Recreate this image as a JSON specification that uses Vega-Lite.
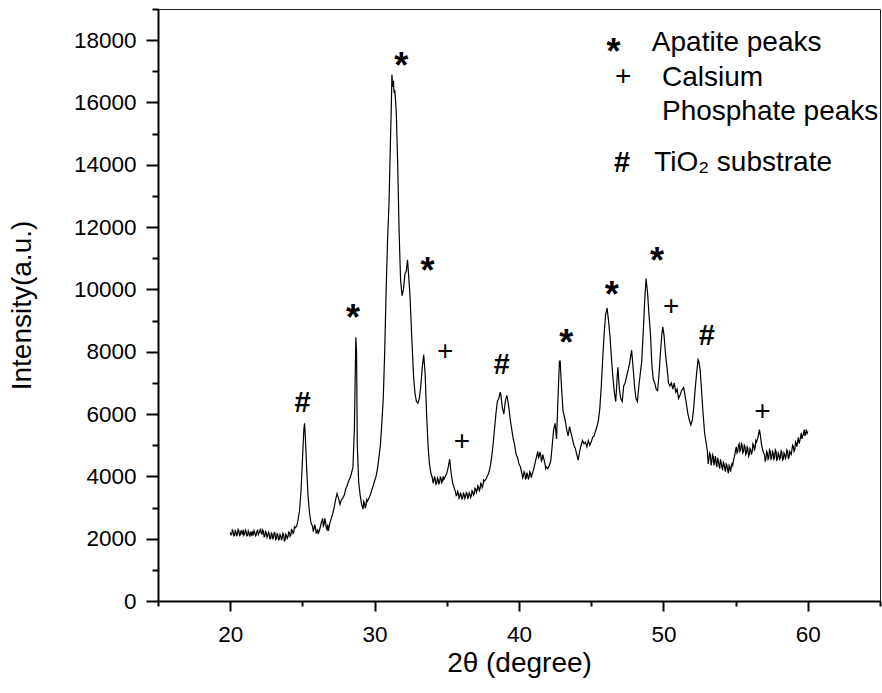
{
  "$schema": "https://vega.github.io/schema/vega-lite/v6.json",
  "width": 722,
  "height": 592,
  "autosize": {"type": "none"},
  "padding": {"left": 158, "top": 9, "right": 2, "bottom": 92},
  "background": "white",
  "config": {
    "view": {"stroke": "#222222", "strokeWidth": 1},
    "axis": {"grid": false, "labelFont": "Liberation Sans", "titleFont": "Liberation Sans", "labelColor": "black", "titleColor": "black", "domainColor": "black", "tickColor": "black", "titleFontWeight": "normal"},
    "text": {"font": "Liberation Sans", "color": "black"}
  },
  "datasets": {
    "xrd": [
      {"x":20.0,"y":2200},{"x":20.05,"y":2120},{"x":20.1,"y":2130},{"x":20.15,"y":2280},{"x":20.2,"y":2250},{"x":20.25,"y":2090},{"x":20.3,"y":2100},{"x":20.35,"y":2260},{"x":20.4,"y":2220},{"x":20.45,"y":2080},{"x":20.5,"y":2150},{"x":20.55,"y":2300},{"x":20.6,"y":2260},{"x":20.65,"y":2100},{"x":20.7,"y":2120},{"x":20.75,"y":2270},{"x":20.8,"y":2200},{"x":20.85,"y":2130},{"x":20.9,"y":2290},{"x":20.95,"y":2110},
      {"x":21.0,"y":2150},{"x":21.05,"y":2280},{"x":21.1,"y":2230},{"x":21.15,"y":2090},{"x":21.2,"y":2100},{"x":21.25,"y":2250},{"x":21.3,"y":2190},{"x":21.35,"y":2070},{"x":21.4,"y":2160},{"x":21.45,"y":2230},{"x":21.5,"y":2080},{"x":21.55,"y":2200},{"x":21.6,"y":2150},{"x":21.65,"y":2260},{"x":21.7,"y":2200},{"x":21.75,"y":2090},{"x":21.8,"y":2120},{"x":21.85,"y":2240},{"x":21.9,"y":2270},{"x":21.95,"y":2130},
      {"x":22.0,"y":2180},{"x":22.05,"y":2250},{"x":22.1,"y":2320},{"x":22.15,"y":2170},{"x":22.2,"y":2150},{"x":22.25,"y":2280},{"x":22.3,"y":2230},{"x":22.35,"y":2060},{"x":22.4,"y":2080},{"x":22.45,"y":2230},{"x":22.5,"y":2200},{"x":22.55,"y":2040},{"x":22.6,"y":2100},{"x":22.65,"y":2210},{"x":22.7,"y":2160},{"x":22.75,"y":1990},{"x":22.8,"y":2000},{"x":22.85,"y":2180},{"x":22.9,"y":2150},{"x":22.95,"y":1980},
      {"x":23.0,"y":2050},{"x":23.05,"y":2200},{"x":23.1,"y":2180},{"x":23.15,"y":1970},{"x":23.2,"y":2000},{"x":23.25,"y":2160},{"x":23.3,"y":2120},{"x":23.35,"y":1960},{"x":23.4,"y":1980},{"x":23.45,"y":2140},{"x":23.5,"y":2100},{"x":23.55,"y":1950},{"x":23.6,"y":2020},{"x":23.65,"y":2170},{"x":23.7,"y":2130},{"x":23.75,"y":1930},{"x":23.8,"y":1950},{"x":23.85,"y":2140},{"x":23.9,"y":2100},{"x":23.95,"y":2010},
      {"x":24.0,"y":2060},{"x":24.05,"y":2210},{"x":24.1,"y":2200},{"x":24.15,"y":2080},{"x":24.2,"y":2130},{"x":24.25,"y":2290},{"x":24.3,"y":2260},{"x":24.35,"y":2170},{"x":24.4,"y":2200},{"x":24.45,"y":2380},{"x":24.5,"y":2350},{"x":24.6,"y":2400},{"x":24.7,"y":2600},{"x":24.8,"y":2900},{"x":24.9,"y":3500},
      {"x":25.0,"y":4500},{"x":25.1,"y":5500},{"x":25.15,"y":5700},{"x":25.2,"y":5300},{"x":25.3,"y":4200},{"x":25.4,"y":3300},{"x":25.5,"y":2800},{"x":25.6,"y":2500},{"x":25.7,"y":2400},{"x":25.75,"y":2250},{"x":25.8,"y":2300},{"x":25.85,"y":2450},{"x":25.9,"y":2380},{"x":25.95,"y":2180},
      {"x":26.0,"y":2200},{"x":26.05,"y":2300},{"x":26.1,"y":2150},{"x":26.2,"y":2300},{"x":26.3,"y":2500},{"x":26.4,"y":2650},{"x":26.45,"y":2400},{"x":26.5,"y":2450},{"x":26.55,"y":2650},{"x":26.6,"y":2550},{"x":26.65,"y":2350},{"x":26.7,"y":2300},{"x":26.75,"y":2450},{"x":26.8,"y":2250},{"x":26.9,"y":2500},
      {"x":27.0,"y":2650},{"x":27.1,"y":2800},{"x":27.2,"y":3000},{"x":27.3,"y":3250},{"x":27.4,"y":3450},{"x":27.5,"y":3300},{"x":27.6,"y":3100},{"x":27.7,"y":3250},{"x":27.8,"y":3300},{"x":27.9,"y":3400},
      {"x":28.0,"y":3600},{"x":28.1,"y":3700},{"x":28.2,"y":3850},{"x":28.3,"y":3950},{"x":28.4,"y":4100},{"x":28.5,"y":4300},{"x":28.6,"y":5500},{"x":28.7,"y":8460},{"x":28.75,"y":8000},{"x":28.8,"y":5000},{"x":28.9,"y":3800},
      {"x":29.0,"y":3400},{"x":29.1,"y":3100},{"x":29.2,"y":2950},{"x":29.25,"y":3200},{"x":29.3,"y":3150},{"x":29.35,"y":2980},{"x":29.4,"y":3050},{"x":29.45,"y":3250},{"x":29.5,"y":3200},{"x":29.6,"y":3300},{"x":29.7,"y":3400},{"x":29.8,"y":3550},{"x":29.9,"y":3700},
      {"x":30.0,"y":3850},{"x":30.1,"y":4000},{"x":30.2,"y":4250},{"x":30.3,"y":4600},{"x":30.4,"y":5000},{"x":30.5,"y":5700},{"x":30.6,"y":6500},{"x":30.7,"y":8000},{"x":30.8,"y":10000},{"x":30.9,"y":11600},
      {"x":31.0,"y":12800},{"x":31.1,"y":14800},{"x":31.15,"y":15700},{"x":31.2,"y":16900},{"x":31.25,"y":16500},{"x":31.3,"y":16700},{"x":31.35,"y":16300},{"x":31.4,"y":16400},{"x":31.5,"y":15700},{"x":31.6,"y":14000},{"x":31.7,"y":11800},{"x":31.8,"y":10300},{"x":31.9,"y":9800},
      {"x":32.0,"y":10000},{"x":32.1,"y":10500},{"x":32.2,"y":10600},{"x":32.28,"y":10950},{"x":32.35,"y":10500},{"x":32.45,"y":9800},{"x":32.6,"y":8200},{"x":32.7,"y":7200},{"x":32.8,"y":6650},{"x":32.9,"y":6400},
      {"x":33.0,"y":6350},{"x":33.1,"y":6500},{"x":33.2,"y":6900},{"x":33.3,"y":7500},{"x":33.4,"y":7900},{"x":33.5,"y":7300},{"x":33.6,"y":6000},{"x":33.7,"y":5000},{"x":33.8,"y":4400},{"x":33.9,"y":4100},
      {"x":34.0,"y":3950},{"x":34.05,"y":3780},{"x":34.1,"y":3850},{"x":34.15,"y":4000},{"x":34.2,"y":3900},{"x":34.25,"y":3750},{"x":34.3,"y":3780},{"x":34.35,"y":3950},{"x":34.4,"y":3900},{"x":34.45,"y":3760},{"x":34.5,"y":3800},{"x":34.55,"y":3980},{"x":34.6,"y":3950},{"x":34.65,"y":3800},{"x":34.7,"y":3850},{"x":34.75,"y":4000},{"x":34.8,"y":3900},{"x":34.9,"y":4000},
      {"x":35.0,"y":4100},{"x":35.1,"y":4300},{"x":35.2,"y":4550},{"x":35.3,"y":4100},{"x":35.4,"y":3800},{"x":35.5,"y":3650},{"x":35.6,"y":3500},{"x":35.65,"y":3380},{"x":35.7,"y":3400},{"x":35.75,"y":3520},{"x":35.8,"y":3450},{"x":35.85,"y":3300},{"x":35.9,"y":3350},{"x":35.95,"y":3480},
      {"x":36.0,"y":3400},{"x":36.05,"y":3280},{"x":36.1,"y":3300},{"x":36.15,"y":3460},{"x":36.2,"y":3420},{"x":36.25,"y":3290},{"x":36.3,"y":3350},{"x":36.35,"y":3480},{"x":36.4,"y":3450},{"x":36.45,"y":3300},{"x":36.5,"y":3330},{"x":36.55,"y":3470},{"x":36.6,"y":3420},{"x":36.65,"y":3320},{"x":36.7,"y":3380},{"x":36.75,"y":3540},{"x":36.8,"y":3500},{"x":36.85,"y":3400},{"x":36.9,"y":3450},{"x":36.95,"y":3620},
      {"x":37.0,"y":3600},{"x":37.05,"y":3480},{"x":37.1,"y":3550},{"x":37.15,"y":3700},{"x":37.2,"y":3650},{"x":37.25,"y":3540},{"x":37.3,"y":3600},{"x":37.35,"y":3780},{"x":37.4,"y":3750},{"x":37.45,"y":3640},{"x":37.5,"y":3700},{"x":37.55,"y":3880},{"x":37.6,"y":3850},{"x":37.7,"y":3900},{"x":37.8,"y":4000},{"x":37.9,"y":4100},
      {"x":38.0,"y":4300},{"x":38.1,"y":4600},{"x":38.2,"y":5000},{"x":38.3,"y":5500},{"x":38.4,"y":6000},{"x":38.5,"y":6400},{"x":38.6,"y":6500},{"x":38.7,"y":6700},{"x":38.75,"y":6600},{"x":38.85,"y":6200},{"x":38.95,"y":6000},
      {"x":39.05,"y":6400},{"x":39.15,"y":6600},{"x":39.2,"y":6500},{"x":39.3,"y":6200},{"x":39.4,"y":5800},{"x":39.5,"y":5500},{"x":39.6,"y":5200},{"x":39.7,"y":5000},{"x":39.8,"y":4700},{"x":39.9,"y":4600},
      {"x":40.0,"y":4400},{"x":40.1,"y":4300},{"x":40.2,"y":4100},{"x":40.25,"y":3950},{"x":40.3,"y":4000},{"x":40.35,"y":4150},{"x":40.4,"y":4100},{"x":40.45,"y":3920},{"x":40.5,"y":3950},{"x":40.55,"y":4120},{"x":40.6,"y":4050},{"x":40.65,"y":3900},{"x":40.7,"y":3980},{"x":40.75,"y":4150},{"x":40.8,"y":4100},{"x":40.85,"y":3960},{"x":40.9,"y":4050},
      {"x":41.0,"y":4200},{"x":41.1,"y":4400},{"x":41.2,"y":4600},{"x":41.3,"y":4800},{"x":41.35,"y":4600},{"x":41.4,"y":4650},{"x":41.45,"y":4780},{"x":41.5,"y":4700},{"x":41.55,"y":4500},{"x":41.6,"y":4550},{"x":41.65,"y":4700},{"x":41.7,"y":4600},{"x":41.8,"y":4400},{"x":41.85,"y":4250},{"x":41.9,"y":4300},
      {"x":42.0,"y":4250},{"x":42.1,"y":4350},{"x":42.2,"y":4500},{"x":42.3,"y":5000},{"x":42.4,"y":5500},{"x":42.5,"y":5700},{"x":42.6,"y":5200},{"x":42.7,"y":6500},{"x":42.8,"y":7700},{"x":42.85,"y":7700},{"x":42.95,"y":6800},
      {"x":43.05,"y":6100},{"x":43.2,"y":5800},{"x":43.3,"y":5500},{"x":43.4,"y":5300},{"x":43.5,"y":5600},{"x":43.6,"y":5400},{"x":43.7,"y":5200},{"x":43.8,"y":5000},{"x":43.9,"y":4900},
      {"x":44.0,"y":4700},{"x":44.1,"y":4520},{"x":44.2,"y":4800},{"x":44.3,"y":5000},{"x":44.4,"y":5150},{"x":44.5,"y":5050},{"x":44.6,"y":5100},{"x":44.7,"y":4950},{"x":44.8,"y":5150},{"x":44.9,"y":5000},
      {"x":45.0,"y":5100},{"x":45.1,"y":5250},{"x":45.2,"y":5300},{"x":45.3,"y":5450},{"x":45.4,"y":5600},{"x":45.5,"y":5800},{"x":45.6,"y":6200},{"x":45.7,"y":6900},{"x":45.8,"y":7800},{"x":45.9,"y":8600},
      {"x":46.0,"y":9200},{"x":46.1,"y":9400},{"x":46.2,"y":9000},{"x":46.3,"y":8500},{"x":46.4,"y":7800},{"x":46.5,"y":7200},{"x":46.6,"y":6700},{"x":46.7,"y":6400},{"x":46.8,"y":7200},{"x":46.85,"y":7500},{"x":46.95,"y":6800},
      {"x":47.05,"y":6500},{"x":47.15,"y":6400},{"x":47.25,"y":6900},{"x":47.35,"y":7000},{"x":47.45,"y":7200},{"x":47.55,"y":7400},{"x":47.65,"y":7600},{"x":47.8,"y":8050},{"x":47.9,"y":7500},
      {"x":48.0,"y":6900},{"x":48.1,"y":6500},{"x":48.2,"y":6400},{"x":48.3,"y":6900},{"x":48.4,"y":7300},{"x":48.5,"y":7700},{"x":48.6,"y":8600},{"x":48.7,"y":9600},{"x":48.8,"y":10350},{"x":48.9,"y":9900},
      {"x":49.0,"y":9200},{"x":49.1,"y":8600},{"x":49.2,"y":7600},{"x":49.3,"y":7100},{"x":49.4,"y":7000},{"x":49.5,"y":6800},{"x":49.6,"y":6750},{"x":49.7,"y":7300},{"x":49.8,"y":8000},{"x":49.9,"y":8600},{"x":49.96,"y":8800},
      {"x":50.05,"y":8500},{"x":50.15,"y":7900},{"x":50.25,"y":7500},{"x":50.35,"y":7000},{"x":50.45,"y":6900},{"x":50.55,"y":7000},{"x":50.65,"y":6800},{"x":50.75,"y":7000},{"x":50.85,"y":6700},{"x":50.95,"y":6800},
      {"x":51.05,"y":6500},{"x":51.15,"y":6600},{"x":51.25,"y":6750},{"x":51.4,"y":6850},{"x":51.5,"y":6600},{"x":51.6,"y":6300},{"x":51.7,"y":6000},{"x":51.8,"y":5800},{"x":51.9,"y":5650},
      {"x":52.0,"y":5800},{"x":52.1,"y":6200},{"x":52.2,"y":6800},{"x":52.3,"y":7300},{"x":52.4,"y":7750},{"x":52.45,"y":7700},{"x":52.55,"y":7400},{"x":52.65,"y":6700},{"x":52.75,"y":6000},{"x":52.85,"y":5400},{"x":52.95,"y":5100},
      {"x":53.05,"y":4800},{"x":53.1,"y":4400},{"x":53.15,"y":4550},{"x":53.2,"y":4750},{"x":53.25,"y":4700},{"x":53.3,"y":4350},{"x":53.35,"y":4450},{"x":53.4,"y":4700},{"x":53.45,"y":4650},{"x":53.5,"y":4350},{"x":53.55,"y":4500},{"x":53.6,"y":4650},{"x":53.65,"y":4400},{"x":53.7,"y":4300},{"x":53.75,"y":4600},{"x":53.8,"y":4500},{"x":53.85,"y":4350},{"x":53.9,"y":4250},{"x":53.95,"y":4550},
      {"x":54.0,"y":4450},{"x":54.05,"y":4300},{"x":54.1,"y":4200},{"x":54.15,"y":4450},{"x":54.2,"y":4400},{"x":54.25,"y":4250},{"x":54.3,"y":4150},{"x":54.35,"y":4400},{"x":54.4,"y":4350},{"x":54.45,"y":4200},{"x":54.5,"y":4100},{"x":54.55,"y":4350},{"x":54.6,"y":4300},{"x":54.65,"y":4150},{"x":54.7,"y":4300},{"x":54.75,"y":4400},{"x":54.8,"y":4350},{"x":54.85,"y":4500},{"x":54.9,"y":4600},{"x":54.95,"y":4700},
      {"x":55.0,"y":4850},{"x":55.05,"y":4950},{"x":55.1,"y":4750},{"x":55.15,"y":4800},{"x":55.2,"y":5000},{"x":55.25,"y":5050},{"x":55.3,"y":4800},{"x":55.35,"y":4850},{"x":55.4,"y":5050},{"x":55.45,"y":5000},{"x":55.5,"y":4750},{"x":55.55,"y":4800},{"x":55.6,"y":5000},{"x":55.65,"y":4950},{"x":55.7,"y":4700},{"x":55.75,"y":4750},{"x":55.8,"y":4950},{"x":55.85,"y":4900},{"x":55.9,"y":4650},{"x":55.95,"y":4700},
      {"x":56.0,"y":4900},{"x":56.05,"y":4850},{"x":56.1,"y":4700},{"x":56.15,"y":4800},{"x":56.2,"y":5050},{"x":56.25,"y":5000},{"x":56.3,"y":4850},{"x":56.35,"y":4900},{"x":56.4,"y":5150},{"x":56.45,"y":5100},{"x":56.55,"y":5250},{"x":56.65,"y":5500},{"x":56.72,"y":5300},{"x":56.8,"y":5000},{"x":56.9,"y":4800},
      {"x":57.0,"y":4700},{"x":57.05,"y":4500},{"x":57.1,"y":4550},{"x":57.15,"y":4800},{"x":57.2,"y":4750},{"x":57.25,"y":4550},{"x":57.3,"y":4600},{"x":57.35,"y":4850},{"x":57.4,"y":4800},{"x":57.45,"y":4550},{"x":57.5,"y":4580},{"x":57.55,"y":4800},{"x":57.6,"y":4750},{"x":57.65,"y":4550},{"x":57.7,"y":4600},{"x":57.75,"y":4850},{"x":57.8,"y":4800},{"x":57.85,"y":4520},{"x":57.9,"y":4550},{"x":57.95,"y":4750},
      {"x":58.0,"y":4700},{"x":58.05,"y":4550},{"x":58.1,"y":4600},{"x":58.15,"y":4820},{"x":58.2,"y":4780},{"x":58.25,"y":4520},{"x":58.3,"y":4550},{"x":58.35,"y":4750},{"x":58.4,"y":4700},{"x":58.45,"y":4580},{"x":58.5,"y":4650},{"x":58.55,"y":4850},{"x":58.6,"y":4800},{"x":58.65,"y":4580},{"x":58.7,"y":4600},{"x":58.75,"y":4800},{"x":58.8,"y":4750},{"x":58.85,"y":4700},{"x":58.9,"y":4850},{"x":58.95,"y":5000},
      {"x":59.0,"y":4950},{"x":59.05,"y":4800},{"x":59.1,"y":4850},{"x":59.15,"y":5100},{"x":59.2,"y":5050},{"x":59.25,"y":4950},{"x":59.3,"y":5150},{"x":59.35,"y":5250},{"x":59.4,"y":5050},{"x":59.45,"y":5150},{"x":59.5,"y":5250},{"x":59.55,"y":5400},{"x":59.6,"y":5200},{"x":59.65,"y":5300},{"x":59.7,"y":5350},{"x":59.75,"y":5500},{"x":59.8,"y":5300},{"x":59.85,"y":5400},{"x":59.9,"y":5500},{"x":59.95,"y":5380},{"x":60.0,"y":5450}
    ],
    "marks": [
      {"x":25.01,"y":6340,"s":"#"},
      {"x":28.5,"y":9360,"s":"*"},
      {"x":31.84,"y":17450,"s":"*"},
      {"x":33.66,"y":10890,"s":"*"},
      {"x":34.89,"y":8000,"s":"+"},
      {"x":36.05,"y":5110,"s":"+"},
      {"x":38.81,"y":7570,"s":"#"},
      {"x":43.27,"y":8565,"s":"*"},
      {"x":46.43,"y":10100,"s":"*"},
      {"x":49.55,"y":11200,"s":"*"},
      {"x":50.54,"y":9420,"s":"+"},
      {"x":53.01,"y":8500,"s":"#"},
      {"x":56.86,"y":6050,"s":"+"},
      {"x":46.54,"y":17900,"s":"*"},
      {"x":47.22,"y":16810,"s":"+"},
      {"x":47.13,"y":14050,"s":"#"}
    ],
    "legend": [
      {"x":49.2,"y":17900,"t":"Apatite peaks"},
      {"x":49.9,"y":16780,"t":"Calsium"},
      {"x":49.9,"y":15700,"t":"Phosphate peaks"},
      {"x":49.36,"y":14050,"t":"TiO₂ substrate"}
    ]
  },
  "encoding": {
    "x": {
      "field": "x", "type": "quantitative",
      "scale": {"domain": [15, 65], "nice": false, "zero": false},
      "axis": {
        "title": "2θ (degree)",
        "values": [15, 20, 25, 30, 35, 40, 45, 50, 55, 60, 65],
        "labelExpr": "datum.value % 10 === 0 ? datum.label : ''",
        "labelOverlap": false,
        "labelFlush": false,
        "tickSize": {"condition": {"test": "datum.value % 10 !== 0", "value": 5}, "value": 10},
        "tickWidth": 2,
        "domainWidth": 2,
        "labelFontSize": 22.5,
        "labelPadding": 12,
        "titleFontSize": 28,
        "titleY": 62,
        "titleBaseline": "middle"
      }
    },
    "y": {
      "field": "y", "type": "quantitative",
      "scale": {"domain": [0, 19000], "nice": false},
      "axis": {
        "title": "Intensity(a.u.)",
        "values": [0,1000,2000,3000,4000,5000,6000,7000,8000,9000,10000,11000,12000,13000,14000,15000,16000,17000,18000,19000],
        "labelExpr": "datum.value % 2000 === 0 ? format(datum.value, 'd') : ''",
        "labelOverlap": false,
        "labelFlush": false,
        "tickSize": {"condition": {"test": "datum.value % 2000 !== 0", "value": 6}, "value": 12},
        "tickWidth": 2,
        "domainWidth": 2,
        "labelFontSize": 22.5,
        "labelPadding": 10,
        "titleFontSize": 28,
        "titleX": -136,
        "titleBaseline": "middle"
      }
    }
  },
  "layer": [
    {
      "data": {"name": "xrd"},
      "mark": {"type": "line", "color": "black", "strokeWidth": 1.2, "interpolate": "linear"}
    },
    {
      "data": {"name": "marks"},
      "transform": [{"filter": "datum.s === '*'"}],
      "mark": {"type": "text", "fontSize": 36, "fontWeight": "bold", "baseline": "middle", "align": "center", "dy": 10},
      "encoding": {"text": {"field": "s"}}
    },
    {
      "data": {"name": "marks"},
      "transform": [{"filter": "datum.s === '#'"}],
      "mark": {"type": "text", "fontSize": 29, "fontWeight": "bold", "baseline": "middle", "align": "center"},
      "encoding": {"text": {"field": "s"}}
    },
    {
      "data": {"name": "marks"},
      "transform": [{"filter": "datum.s === '+'"}],
      "mark": {"type": "text", "fontSize": 28, "baseline": "middle", "align": "center"},
      "encoding": {"text": {"field": "s"}}
    },
    {
      "data": {"name": "legend"},
      "mark": {"type": "text", "fontSize": 28, "baseline": "middle", "align": "left"},
      "encoding": {"text": {"field": "t"}}
    }
  ]
}
